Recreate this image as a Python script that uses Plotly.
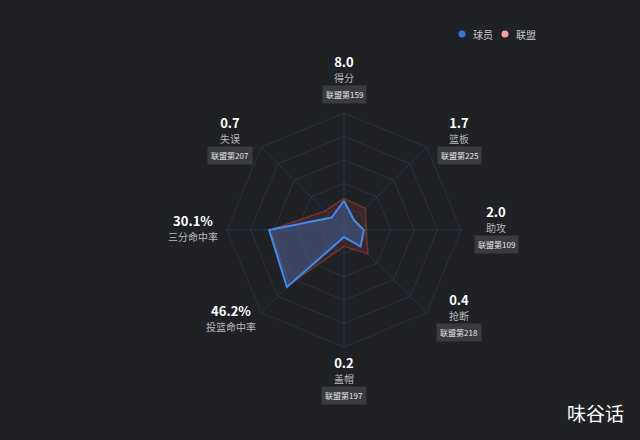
import plotly.graph_objects as go

categories = ["得分", "篮板", "助攻", "抢断", "盖帽", "投篮命中率", "三分命中率", "失误"]
stat_values = ["8.0", "1.7", "2.0", "0.4", "0.2", "46.2%", "30.1%", "0.7"]
ranks = ["联盟第159", "联盟第225", "联盟第109", "联盟第218", "联盟第197", None, None, "联盟第207"]
player_scores = [0.25, 0.12, 0.17, 0.20, 0.06, 0.69, 0.64, 0.15]
league_scores = [0.27, 0.26, 0.19, 0.29, 0.14, 0.66, 0.63, 0.23]
radial_ticks = [0.2, 0.4, 0.6, 0.8, 1.0]
series_names = ["球员", "联盟"]
series_colors = ["#2f78e0", "#f2a0a0"]

BG = "#202124"
cx, cy, R = 344, 230, 117
W, H = 640, 440

fig = go.Figure()
fig.add_trace(go.Scatterpolar(
    r=league_scores + league_scores[:1], theta=categories + categories[:1],
    mode="lines", fill="toself", fillcolor="rgba(140,55,45,0.25)",
    line=dict(color="rgba(170,70,55,0.5)", width=1.5), name=series_names[1], showlegend=False, hoverinfo="skip"))
fig.add_trace(go.Scatterpolar(
    r=player_scores + player_scores[:1], theta=categories + categories[:1],
    mode="lines", fill="toself", fillcolor="rgba(65,110,180,0.42)",
    line=dict(color="#3d8bf0", width=2), name=series_names[0], showlegend=False, hoverinfo="skip"))

# label layout positions (pixel offsets from center, of the value line)
label_pos = [(0, -169), (115, -108), (152, -19), (115, 69), (0, 132), (-113, 80), (-151, -10), (-114, -108)]
annotations = []
for cat, val, rk, (dx, dy) in zip(categories, stat_values, ranks, label_pos):
    x = (cx + dx) / W
    txt = ("<b><span style='font-size:13px;color:#ffffff'>" + val + "</span></b><br>"
           "<span style='font-size:10px;color:#b8b8bc'>" + cat + "</span>")
    annotations.append(dict(x=x, y=1 - (cy + dy + 7.5) / H, xref="paper", yref="paper", text=txt,
                            showarrow=False, font=dict(size=11.5, color="#ffffff", family="Noto Sans CJK SC"),
                            xanchor="center", yanchor="middle", borderpad=0))
    if rk:
        annotations.append(dict(x=x, y=1 - (cy + dy + 33) / H, xref="paper", yref="paper", text=rk,
                                showarrow=False, font=dict(size=8, color="#e6e6e6", family="Noto Sans CJK SC"),
                                bgcolor="#3a3b3f", borderpad=3, xanchor="center", yanchor="middle"))
annotations.append(dict(x=626 / W, y=1 - 412 / H, xref="paper", yref="paper", text="味谷话",
                        showarrow=False, font=dict(size=19, color="#ffffff", family="Noto Sans CJK SC"),
                        xanchor="right", yanchor="middle"))

# manual legend
shapes = []
for i, (nm, col) in enumerate(zip(series_names, series_colors)):
    dxp = 462 + i * 43
    shapes.append(dict(type="circle", xref="paper", yref="paper",
                       x0=(dxp - 3.5) / W, x1=(dxp + 3.5) / W, y0=1 - (34 + 3.5) / H, y1=1 - (34 - 3.5) / H,
                       fillcolor=col, line=dict(width=0)))
    annotations.append(dict(x=(dxp + 9) / W, y=1 - 34 / H, xref="paper", yref="paper", text=nm,
                            showarrow=False, font=dict(size=10, color="#c8c8c8", family="Noto Sans CJK SC"),
                            xanchor="left", yanchor="middle"))

fig.update_layout(
    width=W, height=H, margin=dict(l=0, r=0, t=0, b=0),
    paper_bgcolor=BG, plot_bgcolor=BG, showlegend=False,
    font=dict(family="Noto Sans CJK SC", color="#cccccc"),
    polar=dict(
        bgcolor=BG, gridshape="linear",
        domain=dict(x=[(cx - R) / W, (cx + R) / W], y=[1 - (cy + R) / H, 1 - (cy - R) / H]),
        radialaxis=dict(range=[0, 1], tickvals=radial_ticks, showticklabels=False, ticks="",
                        gridcolor="rgba(55,80,105,0.4)", gridwidth=1, showline=False),
        angularaxis=dict(direction="clockwise", rotation=90, showticklabels=False, ticks="",
                         gridcolor="rgba(25,75,115,0.5)", linecolor="rgba(55,80,105,0.4)", showline=True),
    ),
    shapes=shapes,
    annotations=annotations,
)
fig.write_html("out.html")
